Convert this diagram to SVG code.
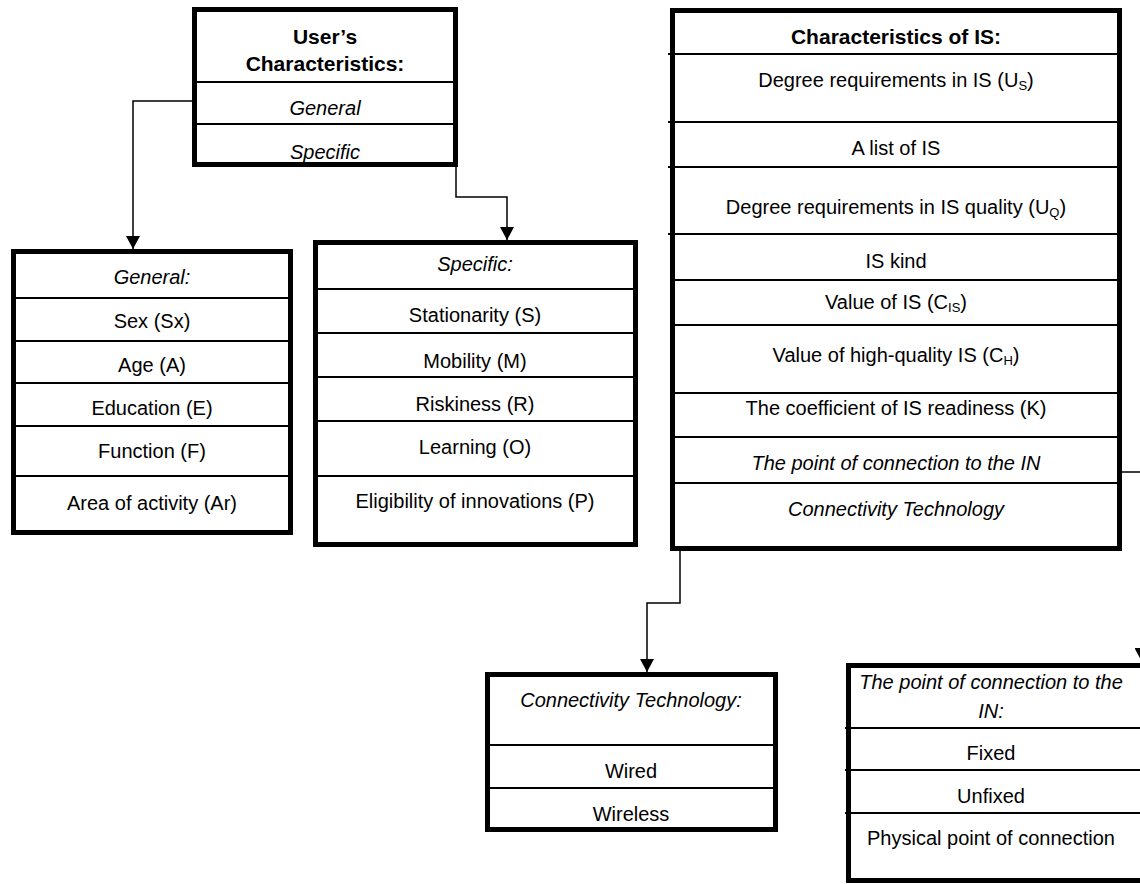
<svg xmlns="http://www.w3.org/2000/svg" width="1140" height="884" viewBox="0 0 1140 884">
<defs>
<style>
.box{fill:#fff;stroke:#000;stroke-width:5}
.div{stroke:#000;stroke-width:2}
.t{font-family:"Liberation Sans",Arial,sans-serif;font-size:20px;fill:#000;text-anchor:middle}
.i{font-style:italic}
.b{font-weight:bold;font-size:21px}
.sub{font-size:13px}
.con{fill:none;stroke:#000;stroke-width:1.5}
</style>
<marker id="arr" viewBox="0 0 13 14" refX="13" refY="7" markerWidth="13" markerHeight="14" markerUnits="userSpaceOnUse" orient="auto">
<path d="M0,0 L13,7 L0,14 z" fill="#000"/>
</marker>
</defs>
<rect width="1140" height="884" fill="#fff"/>

<g id="connectors">
<path class="con" d="M192,101 H133 V249" marker-end="url(#arr)"/>
<path class="con" d="M456,167 V197 H507 V240" marker-end="url(#arr)"/>
<path class="con" d="M680,551 V603 H647 V672" marker-end="url(#arr)"/>
<path class="con" d="M1122,472 H1141.5 V661" marker-end="url(#arr)"/>
</g>

<g id="users-characteristics">
<rect class="box" x="194.5" y="9.5" width="261" height="155"/>
<line class="div" x1="197" y1="82" x2="453" y2="82"/>
<line class="div" x1="197" y1="124" x2="453" y2="124"/>
<text class="t b" x="325" y="44">User’s</text>
<text class="t b" x="325" y="71">Characteristics:</text>
<text class="t i" x="325" y="115">General</text>
<text class="t i" x="325" y="159">Specific</text>
</g>

<g id="general">
<rect class="box" x="13.5" y="251.5" width="277" height="281"/>
<line class="div" x1="16" y1="298" x2="288" y2="298"/>
<line class="div" x1="16" y1="341" x2="288" y2="341"/>
<line class="div" x1="16" y1="383" x2="288" y2="383"/>
<line class="div" x1="16" y1="426" x2="288" y2="426"/>
<line class="div" x1="16" y1="476" x2="288" y2="476"/>
<text class="t i" x="152" y="284">General:</text>
<text class="t" x="152" y="328">Sex (Sx)</text>
<text class="t" x="152" y="372">Age (A)</text>
<text class="t" x="152" y="415">Education (E)</text>
<text class="t" x="152" y="458">Function (F)</text>
<text class="t" x="152" y="510">Area of activity (Ar)</text>
</g>

<g id="specific">
<rect class="box" x="315.5" y="242.5" width="320" height="302"/>
<line class="div" x1="318" y1="289" x2="633" y2="289"/>
<line class="div" x1="318" y1="333" x2="633" y2="333"/>
<line class="div" x1="318" y1="377" x2="633" y2="377"/>
<line class="div" x1="318" y1="421" x2="633" y2="421"/>
<line class="div" x1="318" y1="476" x2="633" y2="476"/>
<text class="t i" x="475" y="271">Specific:</text>
<text class="t" x="475" y="322">Stationarity (S)</text>
<text class="t" x="475" y="368">Mobility (M)</text>
<text class="t" x="475" y="411">Riskiness (R)</text>
<text class="t" x="475" y="454">Learning (O)</text>
<text class="t" x="475" y="508">Eligibility of innovations (P)</text>
</g>

<g id="characteristics-of-is">
<rect class="box" x="672.5" y="10.5" width="447" height="538"/>
<line class="div" x1="668" y1="54" x2="1118" y2="54"/>
<line class="div" x1="668" y1="122" x2="1118" y2="122"/>
<line class="div" x1="668" y1="167" x2="1118" y2="167"/>
<line class="div" x1="668" y1="234" x2="1118" y2="234"/>
<line class="div" x1="675" y1="280" x2="1118" y2="280"/>
<line class="div" x1="675" y1="325" x2="1118" y2="325"/>
<line class="div" x1="675" y1="393" x2="1118" y2="393"/>
<line class="div" x1="675" y1="437" x2="1118" y2="437"/>
<line class="div" x1="675" y1="483" x2="1118" y2="483"/>
<text class="t b" x="896" y="44">Characteristics of IS:</text>
<text class="t" x="896" y="87">Degree requirements in IS (U<tspan class="sub" dy="3">S</tspan><tspan dy="-3">)</tspan></text>
<text class="t" x="896" y="155">A list of IS</text>
<text class="t" x="896" y="214">Degree requirements in IS quality (U<tspan class="sub" dy="3">Q</tspan><tspan dy="-3">)</tspan></text>
<text class="t" x="896" y="268">IS kind</text>
<text class="t" x="896" y="309">Value of IS (C<tspan class="sub" dy="3">IS</tspan><tspan dy="-3">)</tspan></text>
<text class="t" x="896" y="362">Value of high-quality IS (C<tspan class="sub" dy="3">H</tspan><tspan dy="-3">)</tspan></text>
<text class="t" x="896" y="415">The coefficient of IS readiness (K)</text>
<text class="t i" x="896" y="470">The point of connection to the IN</text>
<text class="t i" x="896" y="516">Connectivity Technology</text>
</g>

<g id="connectivity-technology">
<rect class="box" x="487.5" y="674.5" width="288" height="155"/>
<line class="div" x1="490" y1="745" x2="774" y2="745"/>
<line class="div" x1="490" y1="788" x2="774" y2="788"/>
<text class="t i" x="631" y="707">Connectivity Technology:</text>
<text class="t" x="631" y="778">Wired</text>
<text class="t" x="631" y="821">Wireless</text>
</g>

<g id="point-of-connection">
<rect class="box" x="848.5" y="665.5" width="300" height="215"/>
<line class="div" x1="845" y1="728" x2="1140" y2="728"/>
<line class="div" x1="845" y1="770" x2="1140" y2="770"/>
<line class="div" x1="845" y1="813" x2="1140" y2="813"/>
<text class="t i" x="991" y="689">The point of connection to the</text>
<text class="t i" x="991" y="718">IN:</text>
<text class="t" x="991" y="760">Fixed</text>
<text class="t" x="991" y="803">Unfixed</text>
<text class="t" x="991" y="845">Physical point of connection</text>
</g>
</svg>
